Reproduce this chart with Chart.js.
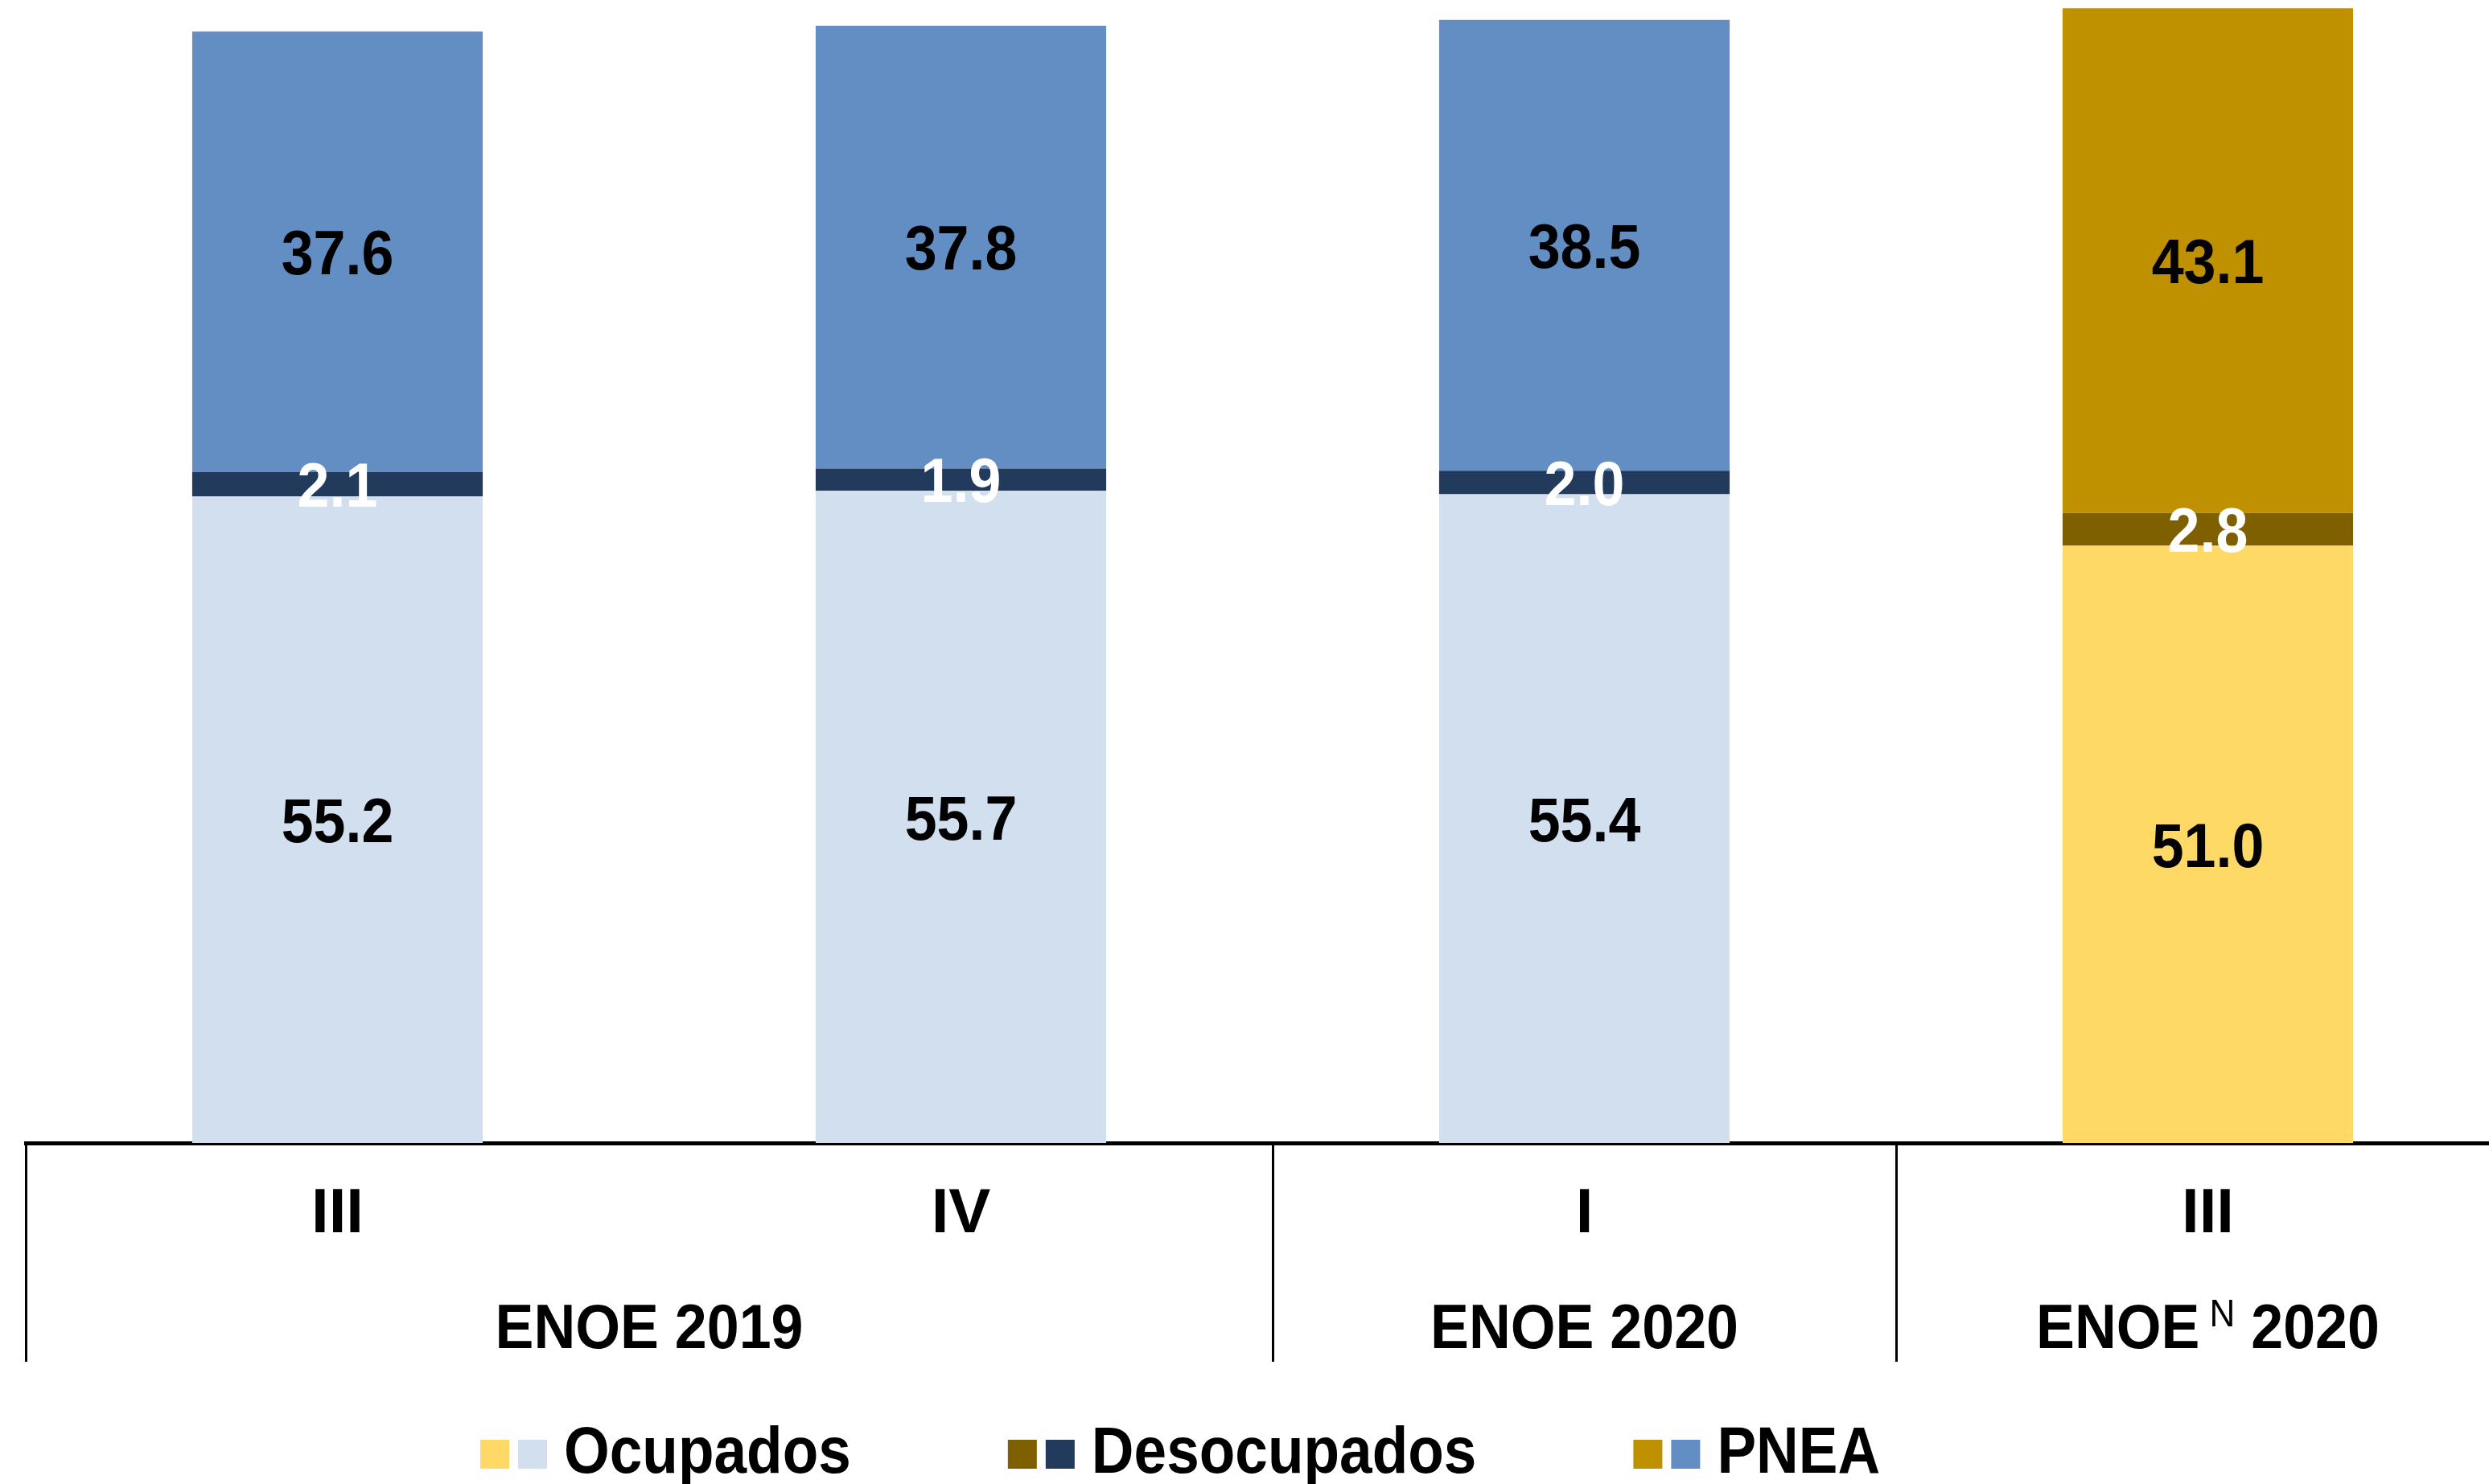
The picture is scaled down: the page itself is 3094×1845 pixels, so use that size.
<!DOCTYPE html>
<html>
<head>
<meta charset="utf-8">
<script src="https://cdn.jsdelivr.net/npm/chart.js@4.4.1/dist/chart.umd.min.js"></script>
<style>
  html, body { margin: 0; padding: 0; background: #fff; overflow: hidden; }
  #wrap { position: relative; width: 3140px; height: 1845px; }
</style>
</head>
<body>
<div id="wrap"><canvas id="chart"></canvas></div>
<script>
  // quarters under each bar
  const quarters = ["III", "IV", "I", "III"];
  // survey groups spanning the quarters
  const groupNames = ["ENOE", "ENOE", "ENOE"];
  const groupSup = ["", "", "N"];
  const groupYears = ["2019", "2020", "2020"];
  const groupFrom = [0, 2, 3];
  const groupTo = [1, 2, 3];

  const seriesNames = ["Ocupados", "Desocupados", "PNEA"];
  const ocupados = [55.2, 55.7, 55.4, 51.0];
  const desocupados = [2.1, 1.9, 2.0, 2.8];
  const pnea = [37.6, 37.8, 38.5, 43.1];

  // the last bar (ENOE^N) uses the gold palette
  const newSurvey = [false, false, false, true];
  const blueColors = ["#D2DFEE", "#223A5C", "#628EC3"];
  const goldColors = ["#FFD966", "#7F6000", "#BF9000"];
  const labelColors = ["#000", "#fff", "#000"];

  const FONT = "'Liberation Sans Narrow', 'Arial Narrow', 'Liberation Sans', Arial, sans-serif";
  const SQUEEZE = 0.92; // the original text is a bit condensed

  const seriesValues = [ocupados, desocupados, pnea];
  const datasets = seriesValues.map((vals, s) => ({
    label: seriesNames[s],
    data: vals,
    backgroundColor: vals.map((v, i) => newSurvey[i] ? goldColors[s] : blueColors[s]),
    borderWidth: 0,
    categoryPercentage: 1,
    barPercentage: 0.466
  }));

  // draw text squeezed horizontally, x is the left edge (or centre when align is center)
  function squeezedText(ctx, text, x, y, sx) {
    ctx.save();
    ctx.translate(x, y);
    ctx.scale(sx, 1);
    ctx.fillText(text, 0, 0);
    ctx.restore();
  }

  const valueLabels = {
    id: "valueLabels",
    afterDatasetsDraw(chart) {
      const ctx = chart.ctx;
      ctx.save();
      ctx.font = "bold 78px " + FONT;
      ctx.textAlign = "center";
      ctx.textBaseline = "alphabetic";
      chart.data.datasets.forEach((ds, s) => {
        const meta = chart.getDatasetMeta(s);
        meta.data.forEach((bar, i) => {
          const mid = (bar.y + bar.base) / 2;
          ctx.fillStyle = labelColors[s];
          squeezedText(ctx, ds.data[i].toFixed(1), bar.x, mid + 28, SQUEEZE);
        });
      });
      ctx.restore();
    }
  };

  const groupLabels = {
    id: "groupLabels",
    afterDraw(chart) {
      const ctx = chart.ctx;
      const xs = chart.scales.x;
      const base = 1676;
      const bold = "bold 78px " + FONT;
      const small = "48px " + FONT;
      ctx.save();
      ctx.fillStyle = "#000";
      ctx.textBaseline = "alphabetic";
      ctx.textAlign = "left";
      groupNames.forEach((name, g) => {
        const cx = (xs.getPixelForValue(groupFrom[g]) + xs.getPixelForValue(groupTo[g])) / 2;
        ctx.font = bold;
        const w1 = ctx.measureText(name).width * SQUEEZE;
        const w3 = ctx.measureText(" " + groupYears[g]).width * SQUEEZE;
        let w2 = 0, gap = 0;
        if (groupSup[g]) {
          ctx.font = small;
          w2 = ctx.measureText(groupSup[g]).width * SQUEEZE;
          gap = 12;
        }
        let x = cx - (w1 + gap + w2 + w3) / 2;
        ctx.font = bold;
        squeezedText(ctx, name, x, base, SQUEEZE);
        x += w1 + gap;
        if (groupSup[g]) {
          ctx.font = small;
          squeezedText(ctx, groupSup[g], x, base - 27, SQUEEZE);
          x += w2;
        }
        ctx.font = bold;
        squeezedText(ctx, " " + groupYears[g], x, base, SQUEEZE);
      });
      ctx.restore();
    }
  };

  const pairedLegend = {
    id: "pairedLegend",
    afterDraw(chart) {
      const ctx = chart.ctx;
      const sx = 0.89;
      ctx.save();
      ctx.font = "bold 82px " + FONT;
      ctx.textBaseline = "alphabetic";
      ctx.textAlign = "left";
      let x = 597;
      const boxTop = 1790, box = 36;
      seriesNames.forEach((name, s) => {
        ctx.fillStyle = goldColors[s];
        ctx.fillRect(x, boxTop, box, box);
        ctx.fillStyle = blueColors[s];
        ctx.fillRect(x + 47, boxTop, box, box);
        ctx.fillStyle = "#000";
        squeezedText(ctx, name, x + 104, 1831, sx);
        x += 104 + ctx.measureText(name).width * sx + 195;
      });
      ctx.restore();
    }
  };

  new Chart(document.getElementById("chart"), {
    type: "bar",
    data: { labels: quarters, datasets },
    options: {
      responsive: true,
      maintainAspectRatio: false,
      animation: false,
      layout: { padding: { left: 32, right: 8, top: 0, bottom: 0 } },
      plugins: { legend: { display: false }, tooltip: { enabled: false } },
      scales: {
        x: {
          stacked: true,
          afterFit(scale) { scale.height = 424; },
          border: { display: true, color: "#000", width: 5 },
          grid: {
            offset: true,
            drawOnChartArea: false,
            drawTicks: true,
            tickLength: 272,
            lineWidth: 3,
            color: (c) => c.index === 1 ? "rgba(0,0,0,0)" : "#000",
            tickColor: (c) => c.index === 1 ? "rgba(0,0,0,0)" : "#000"
          },
          ticks: {
            color: "#000",
            font: { family: FONT, size: 78, weight: "bold" },
            padding: -229,
            maxRotation: 0,
            autoSkip: false
          }
        },
        y: {
          stacked: true,
          display: false,
          min: 0,
          max: 97.6
        }
      }
    },
    plugins: [valueLabels, groupLabels, pairedLegend]
  });
</script>
</body>
</html>
